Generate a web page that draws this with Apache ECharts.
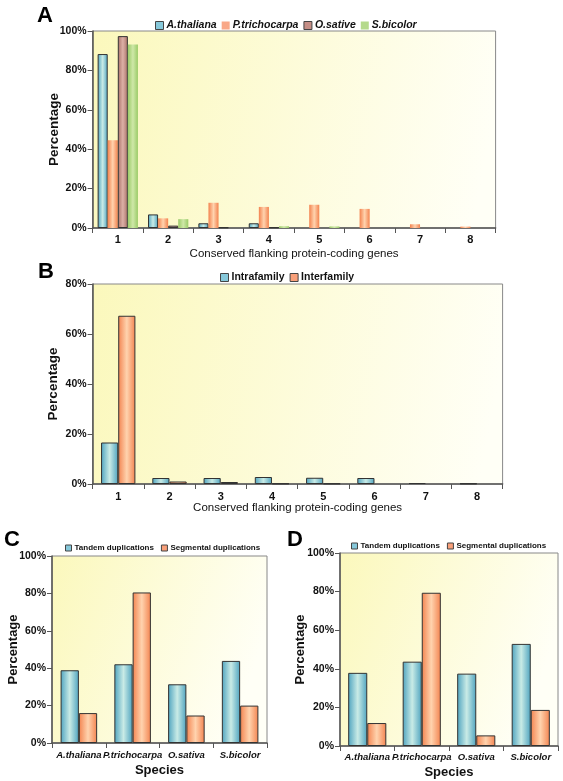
<!DOCTYPE html>
<html><head><meta charset="utf-8">
<script src="https://cdn.jsdelivr.net/npm/echarts@6/dist/echarts.min.js"></script>
<style>html,body{margin:0;padding:0;background:#fff}#c{width:563px;height:781px}</style>
</head><body><div id="c"></div>
<script>
// ---- data ----
const catsAB = ['1','2','3','4','5','6','7','8'];
const athA = [88.3, 6.9, 2.4, 2.4, null, null, null, null];
const ptrA = [44.5, 4.9, 12.8, 10.7, 11.8, 9.7, 1.9, 0.7];
const osaA = [97.4, 1.2, 0.3, 0.3, null, null, null, null];
const sbiA = [93.2, 4.5, null, 0.9, 0.8, null, null, null];
const intraB = [16.6, 2.4, 2.4, 2.8, 2.5, 2.4, 0.4, 0.2];
const interB = [67.3, 1.0, 0.8, 0.2, 0.2, null, null, null];
const species = ['A.thaliana','P.trichocarpa','O.sativa','S.bicolor'];
const tandemC = [38.9, 42.1, 31.4, 43.9];
const segC = [16.0, 80.5, 14.7, 20.0];
const tandemD = [37.9, 43.7, 37.5, 52.9];
const segD = [11.9, 79.4, 5.5, 18.7];

const F = 'Liberation Sans';
function hg(edge, mid){
  return {type:'linear',x:0,y:0,x2:1,y2:0,colorStops:[{offset:0,color:edge},{offset:0.5,color:mid},{offset:1,color:edge}]};
}
const BLUE = hg('#4ea3bf','#c9ebe6');
const ORANGE = hg('#f3834f','#ffd3ae');
const BROWN = hg('#a87068','#dcb0a6');
const GREEN = hg('#9bcb68','#cfe8a8');
const bg = {type:'linear',x:0,y:0,x2:1,y2:0.4,colorStops:[{offset:0,color:'#fbf8bc'},{offset:1,color:'#fffff6'}]};

function grid(l,t,w,h){return {left:l,top:t,width:w,height:h,show:true,backgroundColor:bg,borderColor:'#888',borderWidth:1};}
function xAx(gi,data,name,gap,labelStyle,nameStyle){
  return {type:'category',gridIndex:gi,data:data,name:name,nameLocation:'middle',nameGap:gap,nameMoveOverlap:false,
    nameTextStyle:nameStyle,
    axisLine:{lineStyle:{color:'#555',width:1.5}},
    axisTick:{show:true,length:5,lineStyle:{color:'#555'}},
    axisLabel:labelStyle};
}
function yAx(gi,max,gap,labelSize,nameSize){
  return {type:'value',gridIndex:gi,min:0,max:max,interval:20,name:'Percentage',nameLocation:'middle',nameGap:gap,nameMoveOverlap:false,
    nameTextStyle:{fontFamily:F,fontWeight:'bold',fontSize:nameSize,color:'#111'},
    axisLine:{show:true,lineStyle:{color:'#555',width:1.5}},
    axisTick:{show:true,length:5,lineStyle:{color:'#555'}},
    splitLine:{show:false},
    axisLabel:{formatter:'{value}%',fontFamily:F,fontWeight:'bold',fontSize:labelSize,color:'#111',margin:6}};
}
function bar(name,xi,data,color,border,cg){
  return {type:'bar',name:name,xAxisIndex:xi,yAxisIndex:xi,data:data,barGap:'0%',barCategoryGap:cg,
    itemStyle:{color:color,borderColor:border?'#333':color,borderWidth:border?1:0},
    emphasis:{disabled:true},animation:false};
}
function legItem(name,color,noBorder){return {name:name,itemStyle:{color:color,borderColor:noBorder?color:'#444',borderWidth:noBorder?0:1}};}

const chart = echarts.init(document.getElementById('c'),null,{renderer:'canvas'});
chart.setOption({
  animation:false,
  grid:[grid(92.6,31,403,197),grid(92.6,284,410,200),grid(52,556,215,187),grid(340,553,218,193)],
  xAxis:[
    xAx(0,catsAB,'Conserved flanking protein-coding genes',20,{fontFamily:F,fontWeight:'bold',fontSize:11,color:'#111',margin:6},{fontFamily:F,fontSize:11.5,color:'#111'}),
    xAx(1,catsAB,'Conserved flanking protein-coding genes',18,{fontFamily:F,fontWeight:'bold',fontSize:11,color:'#111',margin:7},{fontFamily:F,fontSize:11.5,color:'#111'}),
    xAx(2,species,'Species',21,{fontFamily:F,fontWeight:'bold',fontStyle:'italic',fontSize:9.5,color:'#111',margin:7,interval:0},{fontFamily:F,fontWeight:'bold',fontSize:13,color:'#111'}),
    xAx(3,species,'Species',20,{fontFamily:F,fontWeight:'bold',fontStyle:'italic',fontSize:9.5,color:'#111',margin:6,interval:0},{fontFamily:F,fontWeight:'bold',fontSize:13,color:'#111'})
  ],
  yAxis:[yAx(0,100,31,10.5,13.5),yAx(1,80,32,10.5,13.5),yAx(2,100,32,10.5,13),yAx(3,100,33,10.5,13)],
  legend:[
    {top:15,left:150,itemWidth:8,itemHeight:8,itemGap:5,icon:'rect',selectedMode:false,
      textStyle:{fontFamily:F,fontWeight:'bold',fontStyle:'italic',fontSize:10.5,color:'#111',padding:[0,0,0,-2]},
      data:[legItem('A.thaliana','#86c8da'),legItem('P.trichocarpa','#f9a888',true),legItem('O.sative','#c58e86'),legItem('S.bicolor','#b5da8c',true)]},
    {top:267,left:215,itemWidth:8,itemHeight:8,itemGap:5,icon:'rect',selectedMode:false,
      textStyle:{fontFamily:F,fontWeight:'bold',fontSize:10.5,color:'#111',padding:[0,0,0,-2]},
      data:[legItem('Intrafamily','#86c8da'),legItem('Interfamily','#f9a07a')]},
    {top:539,left:60,itemWidth:6,itemHeight:6,itemGap:7,icon:'rect',selectedMode:false,
      textStyle:{fontFamily:F,fontWeight:'bold',fontSize:8,color:'#111',padding:[0,0,0,-2]},
      data:[legItem('Tandem duplications','#86c8da'),legItem('Segmental duplications','#f9a07a')]},
    {top:537,left:346,itemWidth:6,itemHeight:6,itemGap:7,icon:'rect',selectedMode:false,
      textStyle:{fontFamily:F,fontWeight:'bold',fontSize:8,color:'#111',padding:[0,0,0,-2]},
      data:[legItem('Tandem duplications','#86c8da'),legItem('Segmental duplications','#f9a07a')]}
  ],
  graphic:[
    {type:'text',left:37,top:5,style:{text:'A',font:'bold 22px "Liberation Sans"',fill:'#000'}},
    {type:'text',left:38,top:261,style:{text:'B',font:'bold 22px "Liberation Sans"',fill:'#000'}},
    {type:'text',left:4,top:529,style:{text:'C',font:'bold 22px "Liberation Sans"',fill:'#000'}},
    {type:'text',left:287,top:529,style:{text:'D',font:'bold 22px "Liberation Sans"',fill:'#000'}}
  ],
  series:[
    bar('A.thaliana',0,athA,BLUE,true,'20%'),
    bar('P.trichocarpa',0,ptrA,ORANGE,false,'20%'),
    bar('O.sative',0,osaA,BROWN,true,'20%'),
    bar('S.bicolor',0,sbiA,GREEN,false,'20%'),
    bar('Intrafamily',1,intraB,BLUE,true,'33%'),
    bar('Interfamily',1,interB,ORANGE,true,'33%'),
    bar('Tandem duplications',2,tandemC,BLUE,true,'32%'),
    bar('Segmental duplications',2,segC,ORANGE,true,'32%'),
    bar('Tandem duplications',3,tandemD,BLUE,true,'30%'),
    bar('Segmental duplications',3,segD,ORANGE,true,'30%')
  ]
});
</script></body></html>
